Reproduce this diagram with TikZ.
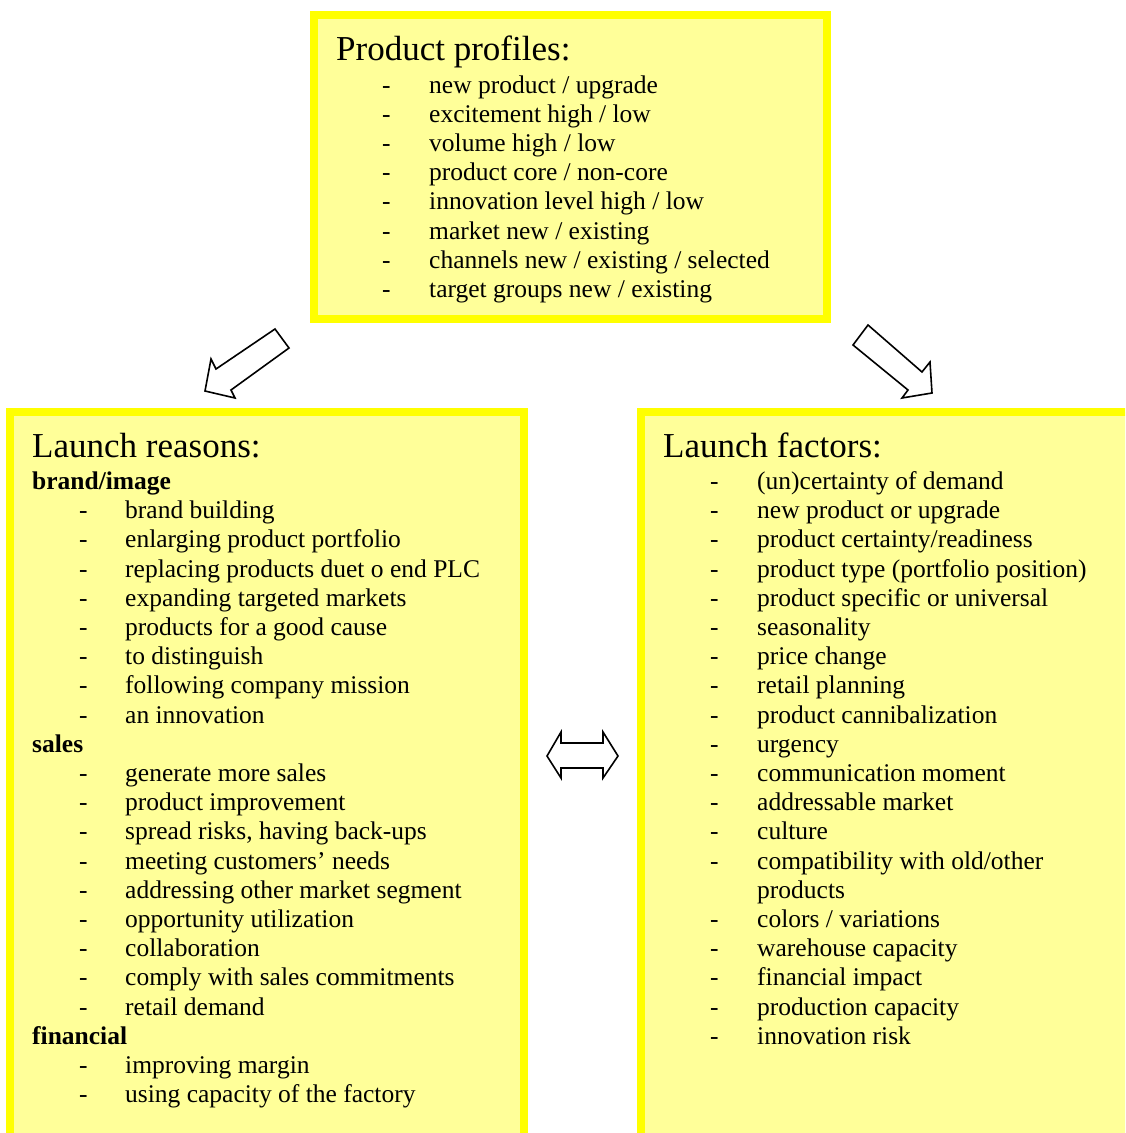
\documentclass[tikz,border=0pt]{standalone}
\usepackage{fontspec}
\setmainfont{Liberation Serif}
\definecolor{boxfill}{HTML}{FFFF99}
\definecolor{boxline}{HTML}{FFFF00}
\begin{document}
\begin{tikzpicture}[x=1pt,y=-1pt,
  panel/.style={fill=boxfill,draw=boxline,line width=8pt,anchor=north west,inner sep=0pt,outer sep=0pt},
  head/.style={anchor=base west,inner sep=0pt,font=\fontsize{35}{40}\selectfont},
  item/.style={anchor=base west,inner sep=0pt,font=\fontsize{25.5}{30}\selectfont},
  group/.style={anchor=base west,inner sep=0pt,font=\fontsize{25.5}{30}\selectfont\bfseries},
  blockarrow/.style={draw=black,fill=white,line width=1.6pt,line join=miter}]
\useasboundingbox (0,0) rectangle (1125,1133);
\clip (0,0) rectangle (1125,1133);

% three panels
\node[panel,minimum width=513pt,minimum height=304pt] (profiles) at (314,15) {};
\node[panel,minimum width=514pt,minimum height=740pt] (reasons) at (10,412) {};
\node[panel,minimum width=520pt,minimum height=740pt] (factors) at (641,412) {};

% product profiles
\node[head] (ptitle) at (336,60) {Product profiles:};
\foreach \t [count=\r from 0] in {{new product / upgrade},{excitement high / low},{volume high / low},
  {product core / non-core},{innovation level high / low},{market new / existing},
  {channels new / existing / selected},{target groups new / existing}}
{
  \node[item] (pd\r) at (382,{93+29.2*\r}) {-};
  \node[item] (pi\r) at (429,{93+29.2*\r}) {\t};
}

% launch reasons
\node[head] (rtitle) at (32,457) {Launch reasons:};
\node[group] (rbrand) at (32,489.5) {brand/image};
\foreach \t [count=\r from 1] in {{brand building},{enlarging product portfolio},
  {replacing products duet o end PLC},{expanding targeted markets},{products for a good cause},
  {to distinguish},{following company mission},{an innovation}}
{
  \node[item] (rbd\r) at (79,{489.5+29.2*\r}) {-};
  \node[item] (rbi\r) at (125,{489.5+29.2*\r}) {\t};
}
\node[group] (rsales) at (32,{489.5+29.2*9}) {sales};
\foreach \t [count=\r from 10] in {{generate more sales},{product improvement},
  {spread risks, having back-ups},{meeting customers’ needs},{addressing other market segment},
  {opportunity utilization},{collaboration},{comply with sales commitments},{retail demand}}
{
  \node[item] (rsd\r) at (79,{489.5+29.2*\r}) {-};
  \node[item] (rsi\r) at (125,{489.5+29.2*\r}) {\t};
}
\node[group] (rfin) at (32,{489.5+29.2*19}) {financial};
\foreach \t [count=\r from 20] in {{improving margin},{using capacity of the factory}}
{
  \node[item] (rfd\r) at (79,{489.5+29.2*\r}) {-};
  \node[item] (rfi\r) at (125,{489.5+29.2*\r}) {\t};
}

% launch factors
\node[head] (ftitle) at (663,457) {Launch factors:};
\foreach \t [count=\r from 0] in {{(un)certainty of demand},{new product or upgrade},
  {product certainty/readiness},{product type (portfolio position)},{product specific or universal},
  {seasonality},{price change},{retail planning},{product cannibalization},{urgency},
  {communication moment},{addressable market},{culture},{compatibility with old/other}}
{
  \node[item] (fd\r) at (710,{489.5+29.2*\r}) {-};
  \node[item] (fi\r) at (757,{489.5+29.2*\r}) {\t};
}
\node[item] (fi14) at (757,{489.5+29.2*14}) {products};
\foreach \t [count=\r from 15] in {{colors / variations},{warehouse capacity},{financial impact},
  {production capacity},{innovation risk}}
{
  \node[item] (fd\r) at (710,{489.5+29.2*\r}) {-};
  \node[item] (fi\r) at (757,{489.5+29.2*\r}) {\t};
}

% block arrows between the panels
\draw[blockarrow] (275,329) -- (289,348) -- (231,390) -- (235,398) -- (205,391)
  -- (211,359) -- (216,369) -- cycle;
\draw[blockarrow] (868,325) -- (922,372) -- (930,362) -- (932,393) -- (902,398)
  -- (908,390) -- (853,345) -- cycle;
\draw[blockarrow] (547,756) -- (561,732) -- (561,743) -- (603,743) -- (603,732)
  -- (618,756) -- (603,778) -- (603,768) -- (561,768) -- (561,778) -- cycle;
\end{tikzpicture}
\end{document}
